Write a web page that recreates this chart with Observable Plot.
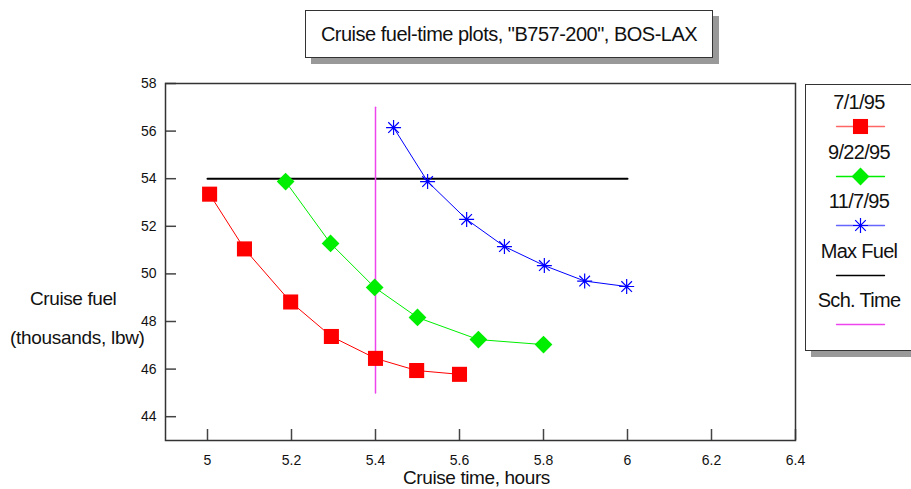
<!DOCTYPE html>
<html>
<head>
<meta charset="utf-8">
<script src="https://cdn.jsdelivr.net/npm/d3@7"></script>
<script src="https://cdn.jsdelivr.net/npm/@observablehq/plot@0.6"></script>
<style>
  html, body { margin: 0; padding: 0; background: #fff; }
  body { width: 911px; height: 489px; position: relative; overflow: hidden; font-family: "Liberation Sans", Arial, sans-serif; }
  #chart { position: absolute; left: 0; top: 0; }
  .box { position: absolute; background: #fff; border: 1px solid #333; box-shadow: 6px 6px 0 #999; }
  #title { left: 305px; top: 10px; width: 406px; height: 46px; line-height: 46px; text-align: center; font-size: 20px; letter-spacing: -0.5px; color: #111; }
  #legend { left: 805px; top: 84px; width: 120px; height: 265px; }
  .lab { position: absolute; color: #111; font-size: 19px; letter-spacing: -0.4px; white-space: nowrap; }
  .li { position: absolute; left: 0; width: 106px; text-align: center; font-size: 20px; letter-spacing: -0.7px; color: #111; }
</style>
</head>
<body>
<div id="chart"></div>
<div class="box" id="title">Cruise fuel-time plots, "B757-200", BOS-LAX</div>
<div class="box" id="legend"></div>
<div class="lab" style="left:30px; top:288px;">Cruise fuel</div>
<div class="lab" style="left:10px; top:327px; letter-spacing:-0.3px;">(thousands, lbw)</div>
<div class="lab" style="left:403px; top:467px;">Cruise time, hours</div>
<script>
// Data
const series = ["7/1/95", "9/22/95", "11/7/95"];
const time_jul = [5.005, 5.088, 5.198, 5.295, 5.400, 5.498, 5.600];
const fuel_jul = [53.35, 51.05, 48.82, 47.37, 46.45, 45.94, 45.78];
const time_sep = [5.186, 5.293, 5.398, 5.500, 5.645, 5.800];
const fuel_sep = [53.88, 51.28, 49.43, 48.17, 47.24, 47.03];
const time_nov = [5.443, 5.524, 5.617, 5.707, 5.802, 5.898, 5.998];
const fuel_nov = [56.15, 53.88, 52.29, 51.15, 50.35, 49.70, 49.47];
const maxFuel = 54;
const maxFuelTimes = [5.0, 6.0];
const schTime = 5.4;
const schFuelRange = [45, 57];
const xTicks = [5, 5.2, 5.4, 5.6, 5.8, 6, 6.2, 6.4];
const yTicks = [44, 46, 48, 50, 52, 54, 56, 58];
const colors = {"7/1/95": "#ff0000", "9/22/95": "#00ee00", "11/7/95": "#0000ff"};

const mk = (t, f, s) => t.map((x, i) => ({time: x, fuel: f[i], series: s}));
const jul = mk(time_jul, fuel_jul, series[0]);
const sep = mk(time_sep, fuel_sep, series[1]);
const nov = mk(time_nov, fuel_nov, series[2]);

const star8 = {
  draw(ctx, size) {
    const r = Math.sqrt(size / Math.PI);
    const d = r * Math.SQRT1_2;
    ctx.moveTo(0, -r); ctx.lineTo(0, r);
    ctx.moveTo(-r, 0); ctx.lineTo(r, 0);
    ctx.moveTo(-d, -d); ctx.lineTo(d, d);
    ctx.moveTo(-d, d); ctx.lineTo(d, -d);
  }
};

const W = 911, H = 489, ML = 165, MR = 116, MT = 83, MB = 49;
const innerW = W - ML - MR, innerH = H - MT - MB;

const plot = Plot.plot({
  width: W, height: H,
  marginLeft: ML, marginRight: MR, marginTop: MT, marginBottom: MB,
  style: {fontFamily: "'Liberation Sans', Arial, sans-serif", fontSize: "14px", color: "#111", background: "transparent"},
  x: {domain: [4.9, 6.4], ticks: xTicks, tickFormat: d => String(d), label: null},
  y: {domain: [43, 58], ticks: yTicks, tickFormat: d => String(d), label: null},
  marks: [
    Plot.axisX(xTicks, {tickSize: 0, tickPadding: 15, tickFormat: d => String(d), fontSize: 14, label: null}),
    Plot.axisY(yTicks, {tickSize: 0, tickPadding: 9, tickFormat: d => String(d), fontSize: 14, label: null}),
    Plot.tickX(xTicks, {x: d => d, insetTop: innerH - 11, stroke: "#444", strokeWidth: 1.5}),
    Plot.tickY(yTicks, {y: d => d, insetRight: innerW - 11, stroke: "#444", strokeWidth: 1.5}),
    Plot.frame({stroke: "#333", strokeWidth: 1.5}),
    Plot.line(maxFuelTimes.map(t => ({time: t, fuel: maxFuel})), {x: "time", y: "fuel", stroke: "#000", strokeWidth: 2}),
    Plot.line(schFuelRange.map(f => ({time: schTime, fuel: f})), {x: "time", y: "fuel", stroke: "#ee44ee", strokeWidth: 1.5}),
    Plot.line(jul, {x: "time", y: "fuel", stroke: colors[series[0]], strokeWidth: 1}),
    Plot.line(sep, {x: "time", y: "fuel", stroke: colors[series[1]], strokeWidth: 1}),
    Plot.line(nov, {x: "time", y: "fuel", stroke: colors[series[2]], strokeWidth: 1}),
    Plot.dot(jul, {x: "time", y: "fuel", symbol: "square", r: 8.5, fill: colors[series[0]], stroke: "none"}),
    Plot.dot(sep, {x: "time", y: "fuel", symbol: "diamond2", r: 8, fill: colors[series[1]], stroke: "none"}),
    Plot.dot(nov, {x: "time", y: "fuel", symbol: star8, r: 7.5, stroke: colors[series[2]], strokeWidth: 1.2, fill: "none"})
  ]
});
document.getElementById("chart").appendChild(plot);

// Legend (drawn with Plot as well)
const legendItems = [
  {label: series[0], color: colors[series[0]], symbol: "square", lineColor: "#ff6666"},
  {label: series[1], color: colors[series[1]], symbol: "diamond2", lineColor: "#00ee00"},
  {label: series[2], color: colors[series[2]], symbol: "star", lineColor: "#6666ff"},
  {label: "Max Fuel", color: "#000", symbol: null, lineColor: "#000"},
  {label: "Sch. Time", color: "#ee44ee", symbol: null, lineColor: "#ee44ee"}
];
const lg = document.getElementById("legend");
legendItems.forEach((it, i) => {
  const top = 6 + i * 49.5;
  const t = document.createElement("div");
  t.className = "li"; t.style.top = top + "px"; t.textContent = it.label;
  lg.appendChild(t);
  const rows = [{k: 0}, {k: 1}];
  const sw = Plot.plot({
    width: 48, height: 16, margin: 0,
    x: {domain: [0, 1], axis: null}, y: {domain: [0, 1], axis: null},
    style: {background: "transparent", overflow: "visible"},
    marks: [
      Plot.line(rows, {x: "k", y: () => 0.5, stroke: it.lineColor, strokeWidth: 1.3}),
      it.symbol ? Plot.dot([{k: 0.5}], {x: "k", y: () => 0.5,
        symbol: it.symbol === "star" ? star8 : it.symbol,
        r: it.symbol === "square" ? 8.5 : it.symbol === "star" ? 7.5 : 8,
        fill: it.symbol === "star" ? "none" : it.color,
        stroke: it.symbol === "star" ? it.color : "none", strokeWidth: 1.2}) : null
    ].filter(Boolean)
  });
  sw.style.position = "absolute";
  sw.style.left = "30px";
  sw.style.top = (top + 27) + "px";
  lg.appendChild(sw);
});
</script>
</body>
</html>
